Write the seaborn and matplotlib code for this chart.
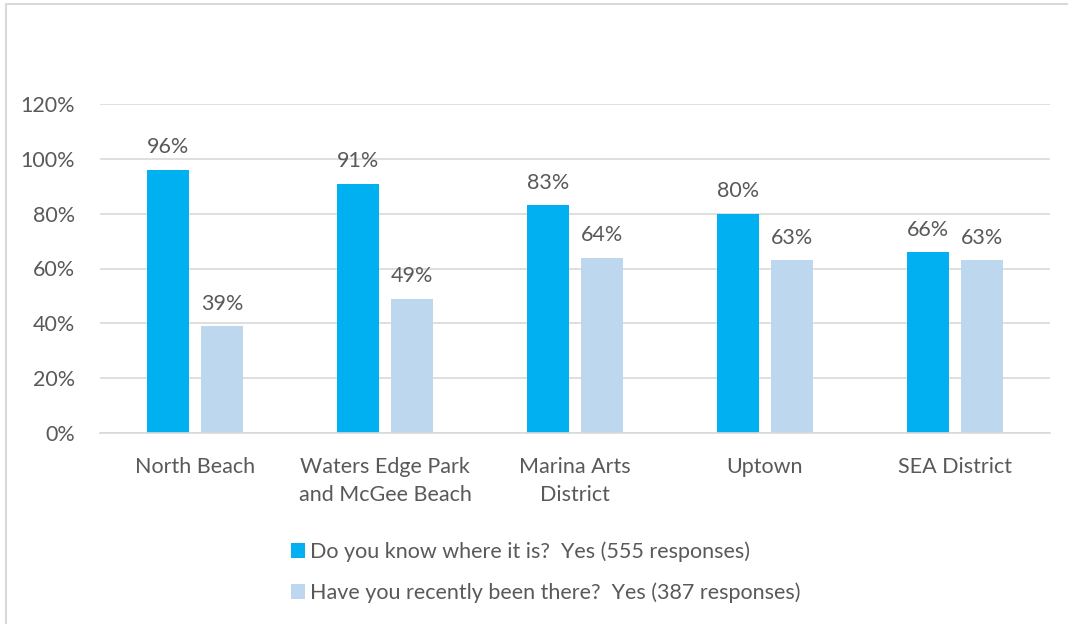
import pandas as pd
import seaborn as sns
import matplotlib.pyplot as plt
from matplotlib.patches import Rectangle

# Data
locations = ["North Beach", "Waters Edge Park\nand McGee Beach", "Marina Arts\nDistrict", "Uptown", "SEA District"]
know_where = [96, 91, 83, 80, 66]
recently_been = [39, 49, 64, 63, 63]
series_names = ["Do you know where it is?  Yes (555 responses)",
                "Have you recently been there?  Yes (387 responses)"]
yticks = [0, 20, 40, 60, 80, 100, 120]

df = pd.DataFrame({
    "location": locations * 2,
    "pct": know_where + recently_been,
    "series": [series_names[0]] * len(locations) + [series_names[1]] * len(locations),
})

sns.set_style("white")
plt.rcParams["font.family"] = ["Lato", "DejaVu Sans"]
text_color = "#595959"
grid_color = "#d9d9d9"
fs = 15.5

fig = plt.figure(figsize=(10.68, 6.24), dpi=100)
ax = fig.add_axes([100 / 1068, 191 / 624, 950 / 1068, 329 / 624])

sns.barplot(data=df, x="location", y="pct", hue="series", ax=ax,
            palette=["#00B0F0", "#BDD7EE"], width=0.568, gap=0.222,
            saturation=1, edgecolor="none")

ax.set_ylim(0, 120)
ax.set_yticks(yticks)
ax.set_yticklabels([f"{t}%" for t in yticks])
ax.set_xlabel("")
ax.set_ylabel("")
ax.yaxis.grid(True, color=grid_color, linewidth=1.2)
ax.set_axisbelow(True)
for s in ["top", "right", "left"]:
    ax.spines[s].set_visible(False)
ax.spines["bottom"].set_color(grid_color)
ax.spines["bottom"].set_linewidth(1.2)
ax.tick_params(axis="both", length=0, labelsize=fs, colors=text_color)
ax.tick_params(axis="x", pad=17)
ax.tick_params(axis="y", pad=18)
for lbl in ax.get_xticklabels():
    lbl.set_linespacing(1.5)

for container in ax.containers:
    ax.bar_label(container, labels=[f"{v:.0f}%" for v in container.datavalues],
                 padding=9, fontsize=fs, color=text_color)

handles, labels = ax.get_legend_handles_labels()
ax.legend(handles, labels, loc="upper left", bbox_to_anchor=(272 / 1068, 102 / 624),
          bbox_transform=fig.transFigure, frameon=False, fontsize=fs,
          handlelength=0.65, handleheight=0.65, handletextpad=0.2,
          labelspacing=0.95, labelcolor=text_color)

# light outer border like the original chart frame
fig.patches.append(Rectangle((6 / 1068, -0.01), 1.05, 620 / 624 + 0.01,
                             transform=fig.transFigure, fill=False,
                             edgecolor=grid_color, linewidth=1.5))

fig.savefig("out.png", dpi=100)
